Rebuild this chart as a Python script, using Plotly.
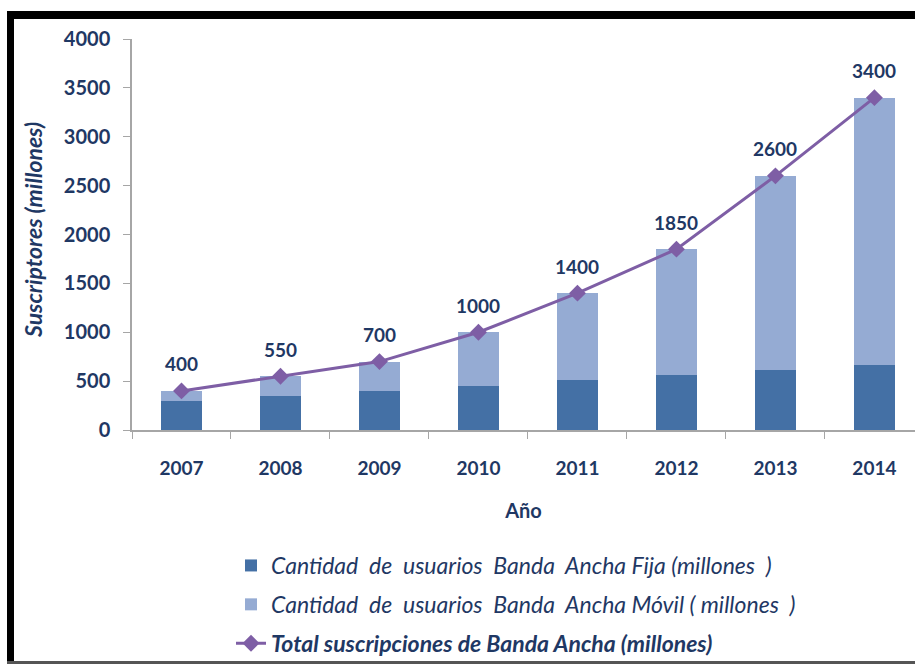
import plotly.graph_objects as go

years = ["2007", "2008", "2009", "2010", "2011", "2012", "2013", "2014"]
fija = [300, 350, 400, 450, 510, 560, 610, 670]
total = [400, 550, 700, 1000, 1400, 1850, 2600, 3400]
movil = [t - f for t, f in zip(total, fija)]
y_ticks = [0, 500, 1000, 1500, 2000, 2500, 3000, 3500, 4000]

NAVY = "#1F3864"
FONT = "Lato, 'Open Sans', sans-serif"
W, H = 915, 664
L, R, T, B = 132, 0, 39, 234

fig = go.Figure()
fig.add_trace(go.Bar(
    x=years, y=fija, name="Cantidad\u00a0 de\u00a0 usuarios\u00a0 Banda\u00a0 Ancha Fija (millones\u00a0 )",
    marker=dict(color="#4470A5", line=dict(width=0)), legendgroup="a"))
fig.add_trace(go.Bar(
    x=years, y=movil, name="Cantidad\u00a0 de\u00a0 usuarios\u00a0 Banda\u00a0 Ancha Móvil ( millones\u00a0 )",
    marker=dict(color="#95ABD3", line=dict(width=0)), legendgroup="b"))
fig.add_trace(go.Scatter(
    x=years, y=total, name="<b>Total suscripciones de Banda Ancha (millones)</b>",
    mode="lines+markers", line=dict(color="#7E5EA5", width=3),
    marker=dict(symbol="diamond", size=13, color="#7E5EA5"), legendgroup="c"))

for i, t in enumerate(total):
    fig.add_annotation(x=i, y=t, xref="x", yref="y", text=f"<b>{t}</b>", showarrow=False, yshift=27,
                       font=dict(family=FONT, size=19, color=NAVY))

def px_x(p):
    return (p - L) / (W - L - R)

def px_y(p):
    return (430 - p) / (430 - 39)

# y-axis title
fig.add_annotation(xref="paper", yref="paper", x=px_x(33), y=px_y(230), xanchor="center", yanchor="middle",
                   text="<b><i>Suscriptores (millones)</i></b>", textangle=-90, showarrow=False,
                   font=dict(family=FONT, size=23, color=NAVY))

# frame
fig.add_shape(type="rect", xref="paper", yref="paper", x0=px_x(7), x1=px_x(915), y0=px_y(19), y1=px_y(11),
              fillcolor="black", line=dict(width=0), layer="above")
fig.add_shape(type="rect", xref="paper", yref="paper", x0=px_x(7), x1=px_x(14), y0=px_y(664), y1=px_y(11),
              fillcolor="black", line=dict(width=0), layer="above")
fig.add_shape(type="rect", xref="paper", yref="paper", x0=px_x(7), x1=px_x(915), y0=px_y(664), y1=px_y(661),
              fillcolor="#555555", line=dict(width=0), layer="above")

fig.update_layout(
    width=W, height=H,
    margin=dict(l=L, r=R, t=T, b=B, autoexpand=False),
    paper_bgcolor="white", plot_bgcolor="white",
    barmode="stack", bargap=0.59,
    showlegend=True,
    legend=dict(xref="container", yref="container", x=231 / W, y=1 - 544 / H,
                xanchor="left", yanchor="top", traceorder="grouped", tracegroupgap=6,
                font=dict(family=FONT, size=23, color=NAVY, style="italic"),
                bgcolor="rgba(0,0,0,0)", itemwidth=30),
    xaxis=dict(type="category", range=[-0.5, 7.41], showgrid=False, showline=True,
               linecolor="#A6A6A6", linewidth=1.5, ticks="outside", tickson="boundaries",
               ticklen=7, tickcolor="#A6A6A6", ticklabelstandoff=20, tickangle=0, automargin=False,
               tickfont=dict(family=FONT, size=19, color=NAVY, weight="bold"),
               title=dict(text="<b>Año</b>", font=dict(family=FONT, size=20, color=NAVY), standoff=26)),
    yaxis=dict(range=[0, 4000], tickvals=y_ticks, showgrid=False, showline=True, zeroline=False,
               linecolor="#A6A6A6", linewidth=1.5, ticks="outside", ticklen=7, tickcolor="#A6A6A6",
               ticklabelstandoff=9, automargin=False,
               tickfont=dict(family=FONT, size=20, color=NAVY, weight="bold")),
)

fig.write_html("out.html", config={"displayModeBar": False},
               post_script="document.body.style.margin='0';")
